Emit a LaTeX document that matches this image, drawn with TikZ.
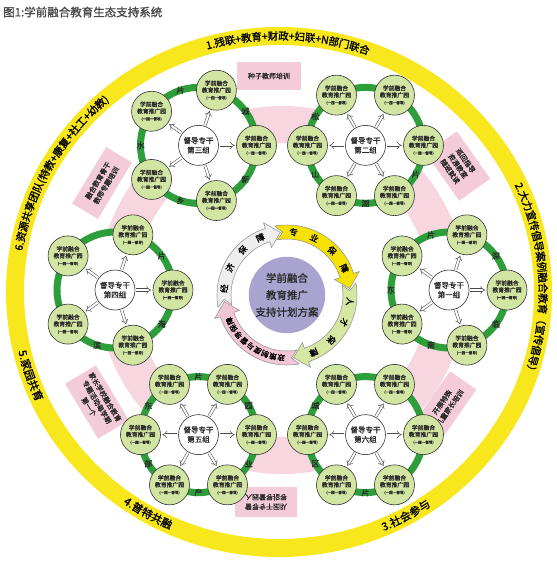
\documentclass[tikz,border=0pt]{standalone}
\usepackage{fontspec}
\setmainfont{Noto Sans CJK SC}
\newfontfamily\cjk{Noto Sans CJK SC}
\newfontfamily\cjkb[FakeBold=1.2]{Noto Sans CJK SC}
\usetikzlibrary{arrows.meta,decorations.text}
\definecolor{ringyellow}{HTML}{F8E71C}
\definecolor{pinkring}{HTML}{F8D6E0}
\definecolor{pinkbox}{HTML}{F4CCD9}
\definecolor{ggreen}{HTML}{2E9E3A}
\definecolor{cfill}{HTML}{D2E5A2}
\definecolor{lav}{HTML}{A9A3D0}
\definecolor{cyyel}{HTML}{F6E200}
\definecolor{cygrn}{HTML}{D5E7A0}
\definecolor{cypink}{HTML}{F2C6D5}
\definecolor{cygray}{HTML}{EEEEEE}
\definecolor{txt}{HTML}{2A2A2A}
\tikzset{
  park/.style={circle, draw=black!80, fill=cfill, line width=0.6pt, minimum size=40pt, inner sep=0pt, align=center, text=txt, font=\cjkb\fontsize{5.8}{6.9}\selectfont},
  ctr/.style={circle, draw=black!80, fill=white, line width=0.6pt, minimum size=40pt, inner sep=0pt, align=center, text=txt, font=\cjkb\fontsize{7.5}{9.5}\selectfont},
  dblarrow/.style={double=white, double distance=2pt, line width=0.55pt, draw=black!70, -{Implies}, shorten >=1.5pt, shorten <=1pt},
  ringlab/.style={inner sep=0pt, text=txt, font=\cjkb\fontsize{8}{8}\selectfont},
  pbox/.style={fill=pinkbox, align=center, text=txt, font=\cjkb\fontsize{7}{9.5}\selectfont, inner xsep=4pt, inner ysep=3pt},
}
\newcommand\grp[5]{%
  \begin{scope}[shift={(#2:167)}]
    \fill[white] (0,0) circle[radius=58pt];
    \draw[ggreen, line width=7pt] (0,0) circle[radius=58pt];
    \node[ctr] (#1c) at (0,0) {督导专干\\#3};
    \pgfmathsetmacro\gstep{360/#4}
    \foreach \k in {1,...,#4} {
      \pgfmathsetmacro\gang{(\k-1)*\gstep}
      \node[park] (#1p\k) at (\gang:58) {学前融合\\教育推广园\\{\fontsize{3.6}{4.6}\selectfont (一园一督导)}};
      \draw[dblarrow] (#1c) -- (#1p\k);
    }
    \foreach \la/\lc in {#5} \node[ringlab] at (\la:58) {\lc};
  \end{scope}
}
\newcommand\cyc[4]{%
  \pgfmathsetmacro\ce{#1-82}
  \filldraw[fill=#2, draw=black!45, line width=0.5pt]
    (#1:70) arc[start angle=#1, end angle=\ce, radius=70pt]
    -- (\ce:76) -- ({\ce-12}:63) -- (\ce:50) -- (\ce:56)
    arc[start angle=\ce, end angle=#1, radius=56pt]
    -- ({#1-6}:63) -- cycle;
  \path[decorate, decoration={text along path, text align={fit to path}, raise=-3pt, text={|\cjkb\fontsize{#4}{#4}\selectfont|#3}}]
    ({#1-12}:63) arc[start angle={#1-12}, end angle={\ce+3}, radius=63pt];
}
\begin{document}
\begin{tikzpicture}[x=1pt, y=1pt]
\useasboundingbox (-282,-273) rectangle (275,290);
\fill[white] (-282,-273) rectangle (275,290);
% outer yellow ring
\begin{scope}[shift={(-3,-2)}]
  \fill[ringyellow, even odd rule] (0,0) ellipse[x radius=273pt, y radius=265pt] (0,0) ellipse[x radius=255pt, y radius=247pt];
\end{scope}
% pink ring
\fill[pinkring, even odd rule] (0,0) circle[radius=184pt] (0,0) circle[radius=147pt];
% pink boxes
\node[pbox, minimum width=64pt, minimum height=28pt] (b1) at (-13,214) {种子教师培训};
\node[pbox, minimum width=58pt, minimum height=38pt, rotate=-55] (b2) at (176,124) {巡回指导\\资源教室\\随班就读};
\node[pbox, minimum width=66pt, minimum height=30pt, rotate=59] (b3) at (-180,107) {融合教育骨干\\教师专题培训};
\node[pbox, minimum width=58pt, minimum height=36pt, rotate=-59] (b4) at (-185,-112) {家长学校融合教育\\专题活动每学期\\第一个};
\node[pbox, minimum width=60pt, minimum height=32pt, rotate=55] (b5) at (164,-115) {开展特殊\\儿童家长培训};
\node[pbox, minimum width=62pt, minimum height=30pt, yscale=-1, transform shape] (b6) at (-16,-212) {督导专干团队\\入园督导指导};
% groups
\grp{ga}{0}{第一组}{5}{180/东,252/南,324/临,36/深,108/片}
\grp{gb}{60}{第二组}{6}{150/松,210/山,270/湖,330/片}
\grp{gc}{120}{第三组}{5}{180/水,252/乡,324/新,36/城,108/片}
\grp{gd}{180}{第四组}{5}{252/滨,324/海,36/片}
\grp{ge}{240}{第五组}{6}{150/东,210/部,270/产,330/业,30/园,90/片}
\grp{gf}{300}{第六组}{6}{150/城,210/区,270/片}
% centre cycle
\begin{scope}[shift={(5,-5)}]
  \cyc{190}{cygray}{经济保障}{8.5}
  \cyc{100}{cyyel}{专业保障}{8.5}
  \cyc{10}{cygrn}{人才保障}{8.5}
  \cyc{-80}{cypink}{政策制度与督导保障}{7.5}
  \node[circle, fill=lav, minimum size=74pt, inner sep=0pt, align=center, text=txt, font=\cjkb\fontsize{10.5}{17}\selectfont] (hub) at (0,0) {学前融合\\教育推广\\支持计划方案};
\end{scope}
% ring texts
\begin{scope}[shift={(-3,-2)}]
  \path[decorate, decoration={text along path, text align=center, raise=-3.8pt, text={|\cjkb\fontsize{10.5}{10.5}\selectfont|1.残联+教育+财政+妇联+N部门联合}}]
    (132:264pt and 256pt) arc[start angle=132, end angle=44, x radius=264pt, y radius=256pt];
  \path[decorate, decoration={text along path, text align=center, raise=-3.8pt, text={|\cjkb\fontsize{10.5}{10.5}\selectfont|2.大力宣传倡导案例融合教育（宣传倡导）}}]
    (50:264pt and 256pt) arc[start angle=50, end angle=-44, x radius=264pt, y radius=256pt];
  \path[decorate, decoration={text along path, text align=center, raise=-3.8pt, text={|\cjkb\fontsize{11}{11}\selectfont|3.社会参与}}]
    (-90:264pt and 256pt) arc[start angle=-90, end angle=-32, x radius=264pt, y radius=256pt];
  \path[decorate, decoration={text along path, text align=center, raise=-3.8pt, text={|\cjkb\fontsize{11}{11}\selectfont|4.普特共融}}]
    (-149:264pt and 256pt) arc[start angle=-149, end angle=-91, x radius=264pt, y radius=256pt];
  \path[decorate, decoration={text along path, text align=center, raise=-3.8pt, text={|\cjkb\fontsize{11}{11}\selectfont|5.家园共育}}]
    (170:264pt and 256pt) arc[start angle=170, end angle=228, x radius=264pt, y radius=256pt];
  \path[decorate, decoration={text along path, text align=center, raise=-3.8pt, text={|\cjkb\fontsize{10.5}{10.5}\selectfont|6.资源共享团队(特教+康复+社工+幼教)}}]
    (200:264pt and 256pt) arc[start angle=200, end angle=102, x radius=264pt, y radius=256pt];
\end{scope}
% title
\node[anchor=west, inner sep=0pt, text=black!72, font=\cjkb\fontsize{11.5}{11.5}\selectfont] (title) at (-279,278) {图1:学前融合教育生态支持系统};
\end{tikzpicture}
\end{document}
